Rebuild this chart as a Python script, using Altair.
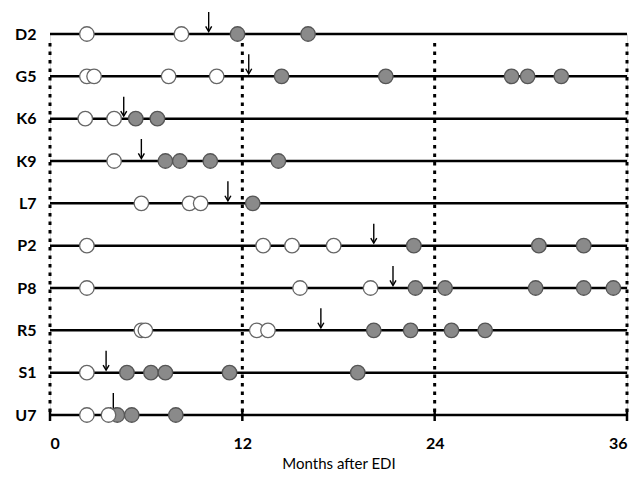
import altair as alt
import pandas as pd

rows = ["D2", "G5", "K6", "K9", "L7", "P2", "P8", "R5", "S1", "U7"]

white_pts = {
    "D2": [2.3, 8.2],
    "G5": [2.3, 2.75, 7.4, 10.4],
    "K6": [2.2, 4.0],
    "K9": [4.0],
    "L7": [5.7, 8.7, 9.4],
    "P2": [2.3, 13.3, 15.1, 17.7],
    "P8": [2.3, 15.6, 20.0],
    "R5": [5.7, 5.95, 12.9, 13.6],
    "S1": [2.3],
    "U7": [2.3, 3.65],
}
gray_pts = {
    "D2": [11.7, 16.1],
    "G5": [14.45, 20.95, 28.8, 29.8, 31.9],
    "K6": [5.35, 6.7],
    "K9": [7.2, 8.1, 10.0, 14.25],
    "L7": [12.65],
    "P2": [22.7, 30.5, 33.3],
    "P8": [22.8, 24.65, 30.3, 33.3, 35.15],
    "R5": [20.2, 22.5, 25.05, 27.15],
    "S1": [4.8, 6.3, 7.2, 11.2, 19.2],
    "U7": [4.2, 5.1, 7.85],
}
arrow_pos = {"D2": 9.9, "G5": 12.4, "K6": 4.6, "K9": 5.7, "L7": 11.1,
             "P2": 20.2, "P8": 21.4, "R5": 16.9, "S1": 3.5, "U7": 3.95}
x_ticks = [0, 12, 24, 36]
x_start, x_end = 0, 36

idx = {r: i for i, r in enumerate(rows)}
last = len(rows) - 1

lines_df = pd.DataFrame({"row": rows, "i": [idx[r] for r in rows],
                         "x": [x_start] * len(rows), "x2": [x_end] * len(rows)})
dots_df = pd.DataFrame({"x": x_ticks, "i": [0] * 4, "i2": [last] * 4})
ticks_df = pd.DataFrame({"x": x_ticks, "i": [last] * 4})
white_df = pd.DataFrame([{"row": r, "i": idx[r], "x": v} for r in rows for v in white_pts[r]])
gray_df = pd.DataFrame([{"row": r, "i": idx[r], "x": v} for r in rows for v in gray_pts[r]])
arrow_df = pd.DataFrame([{"row": r, "i": idx[r], "x": arrow_pos[r]} for r in rows])

xscale = alt.Scale(domain=[0, 36], nice=False, zero=False)
yscale = alt.Scale(domain=[0, last], nice=False, zero=False, reverse=True)

label_array = "[" + ",".join("'" + r + "'" for r in rows) + "]"

X = alt.X("x:Q", scale=xscale, title="Months after EDI",
          axis=alt.Axis(values=x_ticks, grid=False, domain=False, ticks=False,
                        labelPadding=20, labelFontSize=16, labelFontWeight="bold",
                        labelFont="Lato", labelColor="black",
                        titleFont="Lato", titleFontSize=15, titleFontWeight="normal",
                        titleColor="black", titlePadding=5))
Y = alt.Y("i:Q", scale=yscale, title=None,
          axis=alt.Axis(values=list(range(len(rows))), labelExpr=label_array + "[datum.value]",
                        grid=False, domain=False, ticks=False, labelPadding=14, labelFontSize=16,
                        labelFontWeight="bold", labelFont="Lato", labelColor="black"))
Yn = alt.Y("i:Q", scale=yscale)

base_lines = alt.Chart(lines_df).mark_rule(color="black", strokeWidth=2.5).encode(
    x=X, x2="x2:Q", y=Y)

dotted = alt.Chart(dots_df).mark_rule(color="black", strokeWidth=3, strokeDash=[3.5, 5],
                                      yOffset=9).encode(
    x=alt.X("x:Q", scale=xscale), y=Yn, y2="i2:Q")

tick_marks = alt.Chart(ticks_df).mark_rule(color="black", strokeWidth=2.5,
                                           yOffset=-6, y2Offset=6).encode(
    x=alt.X("x:Q", scale=xscale), y=Yn, y2="i:Q")

arrow_shaft = alt.Chart(arrow_df).mark_rule(color="black", strokeWidth=1.4,
                                            yOffset=-22, y2Offset=-3).encode(
    x=alt.X("x:Q", scale=xscale), y=Yn, y2="i:Q")

arrow_head = alt.Chart(arrow_df).mark_point(shape="M -1 -1.7 L 0 0 L 1 -1.7", filled=False,
                                            color="black", strokeWidth=1.4, size=36,
                                            yOffset=-2.5, opacity=1).encode(
    x=alt.X("x:Q", scale=xscale), y=Yn)

gray_c = alt.Chart(gray_df).mark_circle(size=210, color="#8a8a8a", opacity=1,
                                        stroke="#555555", strokeWidth=1.3).encode(
    x=alt.X("x:Q", scale=xscale), y=Yn)

white_c = alt.Chart(white_df).mark_circle(size=210, color="white", opacity=1,
                                          stroke="#666666", strokeWidth=1.3).encode(
    x=alt.X("x:Q", scale=xscale), y=Yn)

chart = alt.layer(base_lines, dotted, tick_marks, arrow_shaft, arrow_head, gray_c, white_c).properties(
    width=577, height=381,
    autosize=alt.AutoSizeParams(type="none"),
    padding={"left": 42, "top": 26, "right": 2, "bottom": 56},
).configure_view(stroke=None).configure(background="white")

chart.save("out.html", embed_options={"renderer": "svg", "actions": False})
